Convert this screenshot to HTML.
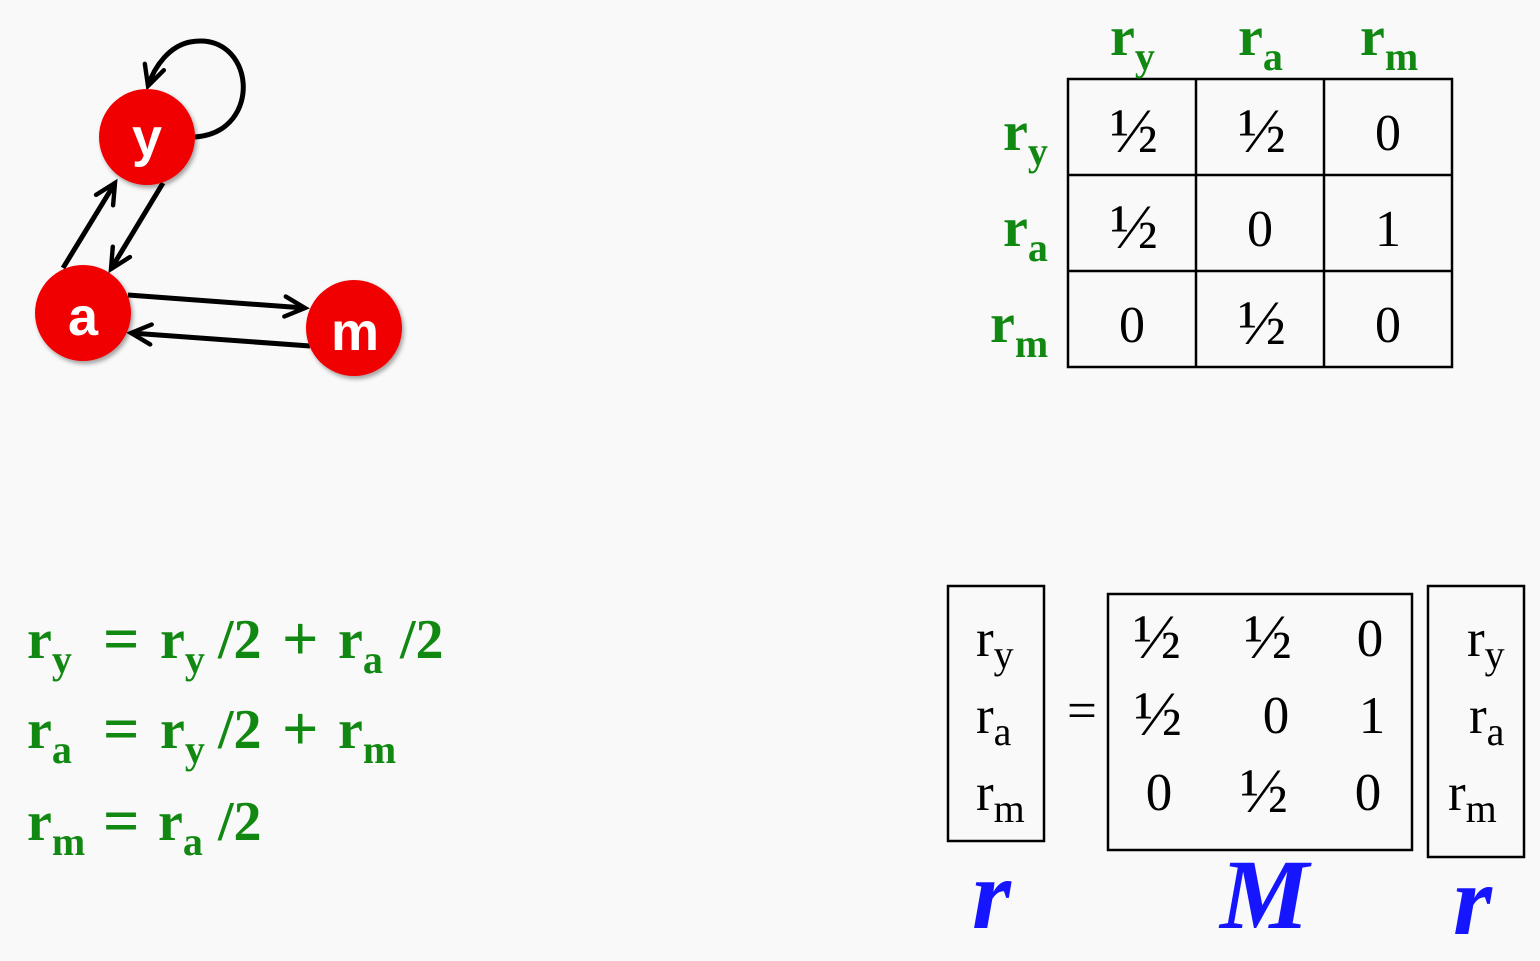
<!DOCTYPE html>
<html><head><meta charset="utf-8"><style>
html,body{margin:0;padding:0;background:#f9f9f9;}
svg{display:block;}
.g{fill:#118811;font-family:"Liberation Serif",serif;font-weight:bold;font-size:56px;}
.gs{font-size:40px;}
.op{font-size:64px;}
.v{font-family:"Liberation Serif",serif;font-size:52px;fill:#000;}
.h{font-size:64px;}
.b{font-family:"Liberation Serif",serif;font-size:53px;fill:#000;}
.bl{font-family:"Liberation Serif",serif;font-weight:bold;font-style:italic;font-size:100px;fill:#1515ff;}
.nl{font-family:"Liberation Sans",sans-serif;font-weight:bold;font-size:54px;fill:#fff;}
</style></head><body>
<svg width="1540" height="961" viewBox="0 0 1540 961">
<defs>
<marker id="ah" viewBox="0 0 12 12" refX="11" refY="6" markerWidth="24" markerHeight="24" orient="auto" markerUnits="userSpaceOnUse" style="overflow:visible">
<path d="M1,1 L11,6 L1,11" fill="none" stroke="#000" stroke-width="2.2" stroke-linecap="round"/></marker>
<filter id="sh"><feDropShadow dx="2" dy="3" stdDeviation="2" flood-opacity="0.35"/></filter>
</defs>
<g stroke="#000" stroke-width="5" fill="none">
<path d="M195,137 C265,132 255,30 190,42 C170,46 155,65 148,86" marker-end="url(#ah)"/>
<line x1="63" y1="268" x2="115" y2="183" marker-end="url(#ah)"/>
<line x1="163" y1="183" x2="111" y2="269" marker-end="url(#ah)"/>
<line x1="128" y1="295" x2="305" y2="308" marker-end="url(#ah)"/>
<line x1="310" y1="346" x2="131" y2="333" marker-end="url(#ah)"/>
</g>
<g filter="url(#sh)">
<circle cx="147" cy="137" r="48" fill="#f00000"/>
<circle cx="83" cy="313" r="48" fill="#f00000"/>
<circle cx="354" cy="328" r="48" fill="#f00000"/>
</g>
<text class="nl" x="147" y="156" text-anchor="middle">y</text>
<text class="nl" x="83" y="335" text-anchor="middle">a</text>
<text class="nl" x="355" y="350" text-anchor="middle">m</text>

<g stroke="#000" stroke-width="2.5" fill="none">
<rect x="1068" y="79" width="384" height="288"/>
<line x1="1196" y1="79" x2="1196" y2="367"/><line x1="1324" y1="79" x2="1324" y2="367"/>
<line x1="1068" y1="175" x2="1452" y2="175"/><line x1="1068" y1="271" x2="1452" y2="271"/>
</g>
<g class="v" text-anchor="middle">
<text class="h" x="1134" y="152">½</text><text class="h" x="1262" y="152">½</text><text x="1388" y="150">0</text>
<text class="h" x="1134" y="248">½</text><text x="1260" y="246">0</text><text x="1388" y="246">1</text>
<text x="1132" y="342">0</text><text class="h" x="1262" y="344">½</text><text x="1388" y="342">0</text>
</g>
<g>
<text class="g" x="1110" y="55">r<tspan class="gs" dy="15">y</tspan></text>
<text class="g" x="1238" y="55">r<tspan class="gs" dy="15">a</tspan></text>
<text class="g" x="1360" y="55">r<tspan class="gs" dy="15">m</tspan></text>
</g>
<g>
<text class="g" x="1003" y="150">r<tspan class="gs" dy="15">y</tspan></text>
<text class="g" x="1003" y="246">r<tspan class="gs" dy="15">a</tspan></text>
<text class="g" x="990" y="342">r<tspan class="gs" dy="15">m</tspan></text>
</g>

<g>
<text class="g" x="27" y="658">r<tspan class="gs" dy="15">y</tspan></text>
<text class="g op" x="103" y="660">=</text>
<text class="g" x="160" y="658">r<tspan class="gs" dy="15">y</tspan></text>
<text class="g" x="218" y="658">/2</text>
<text class="g op" x="282" y="660">+</text>
<text class="g" x="338" y="658">r<tspan class="gs" dy="15">a</tspan></text>
<text class="g" x="400" y="658">/2</text>

<text class="g" x="27" y="748">r<tspan class="gs" dy="15">a</tspan></text>
<text class="g op" x="103" y="750">=</text>
<text class="g" x="160" y="748">r<tspan class="gs" dy="15">y</tspan></text>
<text class="g" x="218" y="748">/2</text>
<text class="g op" x="282" y="750">+</text>
<text class="g" x="338" y="748">r<tspan class="gs" dy="15">m</tspan></text>

<text class="g" x="27" y="840">r<tspan class="gs" dy="15">m</tspan></text>
<text class="g op" x="103" y="842">=</text>
<text class="g" x="158" y="840">r<tspan class="gs" dy="15">a</tspan></text>
<text class="g" x="218" y="840">/2</text>
</g>

<g stroke="#000" stroke-width="2.5" fill="none">
<rect x="948" y="586" width="96" height="255"/>
<rect x="1108" y="594" width="304" height="256"/>
<rect x="1428" y="586" width="96" height="271"/>
</g>
<g class="b">
<text x="976" y="656">r<tspan font-size="40" dy="12">y</tspan></text>
<text x="976" y="733">r<tspan font-size="40" dy="12">a</tspan></text>
<text x="976" y="810">r<tspan font-size="40" dy="12">m</tspan></text>
</g>
<text class="b" x="1082" y="728" text-anchor="middle" font-size="62">=</text>
<g class="b" text-anchor="middle">
<text class="h" x="1157" y="658">½</text><text class="h" x="1268" y="658">½</text><text x="1370" y="656">0</text>
<text class="h" x="1158" y="735">½</text><text x="1276" y="733">0</text><text x="1372" y="733">1</text>
<text x="1159" y="810">0</text><text class="h" x="1264" y="812">½</text><text x="1368" y="810">0</text>
</g>
<g class="b">
<text x="1467" y="656">r<tspan font-size="40" dy="12">y</tspan></text>
<text x="1469" y="733">r<tspan font-size="40" dy="12">a</tspan></text>
<text x="1448" y="810">r<tspan font-size="40" dy="12">m</tspan></text>
</g>
<text class="bl" x="972" y="928">r</text>
<text class="bl" x="1220" y="928">M</text>
<text class="bl" x="1453" y="934">r</text>
</svg>
</body></html>
